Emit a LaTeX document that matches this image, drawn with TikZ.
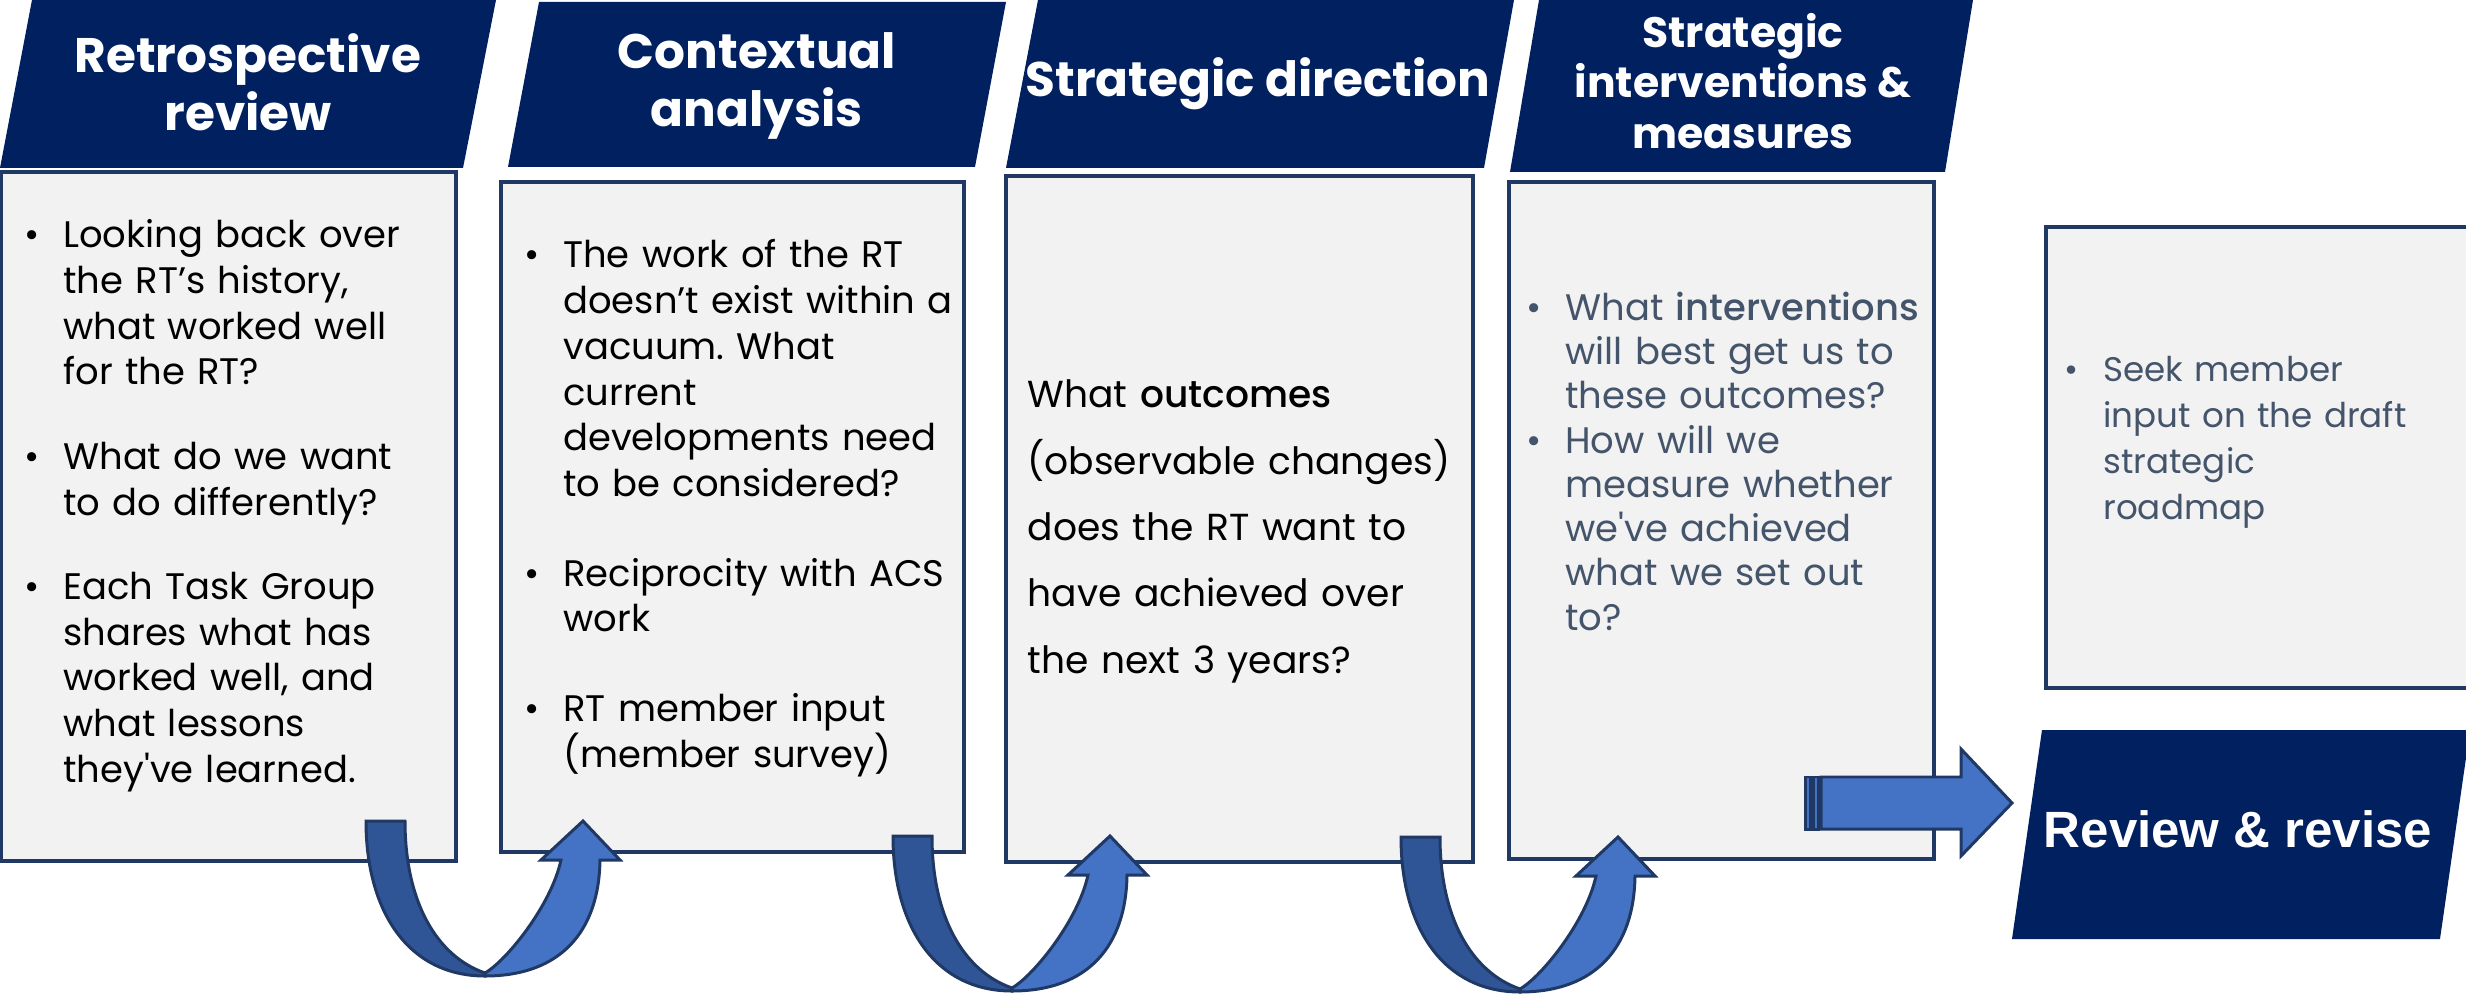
\documentclass[tikz,border=0pt]{standalone}
\usepackage{fontspec}
\setmainfont{Poppins}
\newfontfamily\rrfont{Liberation Sans}
\IfFontExistsTF{Poppins Medium}{\newfontfamily\medfont{Poppins Medium}}{\newcommand\medfont{\bfseries}}
\usetikzlibrary{
  arrows.meta,
  calc,
  positioning,
  fit
}
\definecolor{navy}{HTML}{002060}
\definecolor{panelgray}{HTML}{F2F2F2}
\definecolor{edge}{HTML}{1F3864}
\definecolor{slate}{HTML}{44546A}
\definecolor{bandlight}{HTML}{4472C4}
\definecolor{banddark}{HTML}{2F5597}

\frenchspacing
\newlength{\bind}
\setlength{\bind}{11pt}
\newcommand{\bpt}{\hangindent=\bind\hangafter=1\noindent\hbox to\bind{\textbullet\hfil}}
\newcommand{\bgap}[1][11pt]{\par\vspace{#1}}

\tikzset{
  line join=round,
  header/.style={fill=navy},
  headtext/.style={text=white, inner sep=0pt, align=center, font=\bfseries\fontsize{13.8pt}{16.5pt}\selectfont},
  panel/.style={draw=edge, fill=panelgray, line width=0.9pt, inner sep=0pt},
  bodytext/.style={anchor=north west, inner sep=0pt, text width=6cm, align=left, font=\fontsize{10.5pt}{13pt}\selectfont},
  band/.style={draw=edge, line width=0.85pt, line join=miter},
  uturn/.pic={
    \filldraw[band, fill=banddark] (0,0) -- (39,0)
      .. controls (39,80) and (70,135) .. (119,152)
      -- (119,155) .. controls (42,155) and (0,90) .. (0,0) -- cycle;
    \filldraw[band, fill=bandlight] (119,152)
      .. controls (140,140) and (185,85) .. (195,39)
      -- (175,39) -- (217,0) -- (254,39) -- (234,39)
      .. controls (233,110) and (195,155) .. (119,155) -- cycle;
  }
}

\begin{document}
\begin{tikzpicture}[x=0.01cm, y=-0.01cm]
  \useasboundingbox (0,0) rectangle (2466,994);
  \clip (0,0) rectangle (2466,994);

  % panels
  \node[panel, fit={(1,172) (456,861)}] (rev) {};
  \node[panel, fit={(501,182) (964,852)}] (ctx) {};
  \node[panel, fit={(1006,176) (1473,862)}] (dir) {};
  \node[panel, fit={(1509,182) (1934,859)}] (meas) {};
  \node[panel, fit={(2046,227) (2520,688)}] (draft) {};

  % headers
  \fill[header] (32,0) -- (496,0) -- (463,168) -- (0,168) -- cycle;
  \fill[header] (539,2) -- (1006,2) -- (975,167) -- (508,167) -- cycle;
  \fill[header] (1038,0) -- (1514,0) -- (1484,168) -- (1006,168) -- cycle;
  \fill[header] (1539,0) -- (1973,0) -- (1945,172) -- (1510,172) -- cycle;
  \fill[header] (2042,730) -- (2470,730) -- (2440,939) -- (2012,939) -- cycle;

  \node[headtext] (h-rev) at (248,82) {Retrospective\\review};
  \node[headtext] (h-ctx) at (757,86) {Contextual\\analysis};
  \node[headtext] (h-dir) at (1258,84) {Strategic direction};
  \node[headtext, font=\bfseries\fontsize{12.1pt}{14.4pt}\selectfont] (h-meas) at (1743,81) {Strategic\\interventions \&\\measures};
  \node[headtext, font=\rrfont\bfseries\fontsize{14.5pt}{16pt}\selectfont] (h-draft) at (2238,829) {Review \& revise};

  % panel texts
  \node[bodytext] (t-rev) at (24,219) {%
    \bpt Looking back over\newline the RT’s history,\newline what worked well\newline for the RT?
    \bgap\bpt What do we want\newline to do differently?
    \bgap\bpt Each Task Group\newline shares what has\newline worked well, and\newline what lessons\newline they\textquotesingle ve learned.\par};
  \node[bodytext] (t-ctx) at (524,239) {%
    \bpt The work of the RT\newline doesn’t exist within a\newline vacuum. What\newline current\newline developments need\newline to be considered?
    \bgap[12.5pt]\bpt Reciprocity with ACS\newline work
    \bgap[12.5pt]\bpt RT member input\newline (member survey)\par};
  \node[bodytext, font=\fontsize{10.7pt}{18.9pt}\selectfont] (t-dir) at (1027,379) {%
    What {\medfont outcomes}\\(observable changes)\\does the RT want to\\have achieved over\\the next 3 years?};
  \node[bodytext, text=slate, font=\fontsize{10.5pt}{12.6pt}\selectfont] (t-meas) at (1526,291) {%
    \bpt What {\medfont interventions}\newline will best get us to\newline these outcomes?
    \par\bpt How will we\newline measure whether\newline we\textquotesingle ve achieved\newline what we set out\newline to?\par};
  \node[bodytext, text=slate, font=\fontsize{9.7pt}{13pt}\selectfont] (t-draft) at (2064,356) {%
    \bpt Seek member\newline input on the draft\newline strategic\newline roadmap\par};

  % turn arrows
  \pic at (366,821) {uturn};
  \pic at (893,836) {uturn};
  \pic at (1401,837) {uturn};

  % arrow into review
  \filldraw[band, fill=bandlight] (1805,777) rectangle (1810,829);
  \filldraw[band, fill=bandlight] (1813,777) rectangle (1818,829);
  \filldraw[band, fill=bandlight] (1821,777) -- (1961,777) -- (1961,749) -- (2012,803)
    -- (1961,856) -- (1961,829) -- (1821,829) -- cycle;
\end{tikzpicture}
\end{document}
